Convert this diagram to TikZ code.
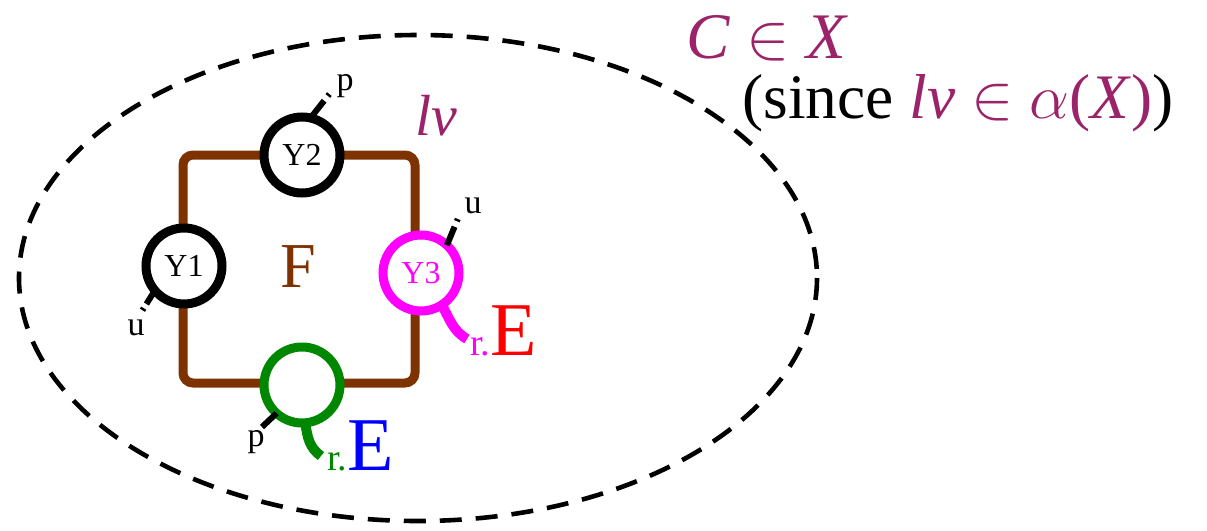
\documentclass[tikz,border=0pt]{standalone}
\usepackage{fix-cm}
\usepackage{fontspec}
\setmainfont{Liberation Serif}
\usetikzlibrary{positioning}
\definecolor{plum}{RGB}{155,35,105}
\definecolor{rust}{RGB}{125,50,0}
\definecolor{leaf}{RGB}{0,135,0}
\definecolor{fuchsia}{RGB}{255,0,255}
\definecolor{scarlet}{RGB}{255,0,0}
\definecolor{azure}{RGB}{0,0,255}

\begin{document}
\begin{tikzpicture}[
  x=0.5pt,y=-0.5pt,
  port/.style={circle,draw,line width=4.5pt,fill=white,minimum size=38pt,
    inner sep=0pt,outer sep=0pt,font=\fontsize{16}{16}\selectfont},
  stub/.style={line width=3pt},
  tail/.style={line width=5pt},
  tag/.style={anchor=base,inner sep=0pt,font=\fontsize{17}{17}\selectfont},
  bigtag/.style={anchor=base west,inner sep=0pt,font=\fontsize{19}{19}\selectfont}
]
  \useasboundingbox (0,0) rectangle (1207,531);
  % the set X
  \draw[line width=2.3pt,dash pattern=on 11pt off 7pt] (418,278) ellipse [x radius=399, y radius=243];
  % the cycle F
  \draw[rust,line width=4.5pt,rounded corners=5pt] (183,155) rectangle (415,383);
  \node[port] (y1) at (184,266) {Y1};
  \node[port] (y2) at (302,155) {Y2};
  \node[port,draw=fuchsia,text=fuchsia] (y3) at (421,273) {Y3};
  \node[port,draw=leaf] (yg) at (302,385) {};
  % stubs
  \coordinate (s1) at (142,311);
  \coordinate (s2) at (331,92);
  \coordinate (s3) at (459,216);
  \coordinate (sg) at (262,427);
  \draw[stub,dash pattern=on 8pt off 2.5pt on 1.2pt off 20pt] (y1.220) -- (s1);
  \draw[stub,dash pattern=on 11pt off 3pt on 1.2pt off 20pt] (y2.77) -- (s2);
  \draw[stub,dash pattern=on 10pt off 3pt on 1.2pt off 20pt] (y3.47) -- (s3);
  \draw[stub] (yg.228) -- (sg);
  % tails
  \coordinate (t3) at (467,339);
  \coordinate (tg) at (321,456);
  \draw[tail,fuchsia] (y3.-57) to[out=-60,in=150] (t3);
  \draw[tail,leaf] (yg.-85) to[out=-82,in=145] (tg);
  % labels
  \node[tag] (u1) at (136,335) {u};
  \node[tag] (p2) at (345,90) {p};
  \node[tag] (u3) at (473,213) {u};
  \node[tag] (pg) at (256,446) {p};
  \node[bigtag,text=fuchsia] (e3) at (470,355) {r.\textcolor{scarlet}{\fontsize{38}{38}\selectfont E}};
  \node[bigtag,text=leaf] (eg) at (327,470) {r.\textcolor{azure}{\fontsize{38}{38}\selectfont E}};
  \node[anchor=base,text=rust,font=\fontsize{32}{32}\selectfont] (f) at (298,287) {F};
  \node[anchor=base,text=plum,font=\fontsize{29}{29}\selectfont] (lv) at (436,135) {\textit{lv}};
  \node[anchor=base west,inner sep=0pt,text=plum,font=\fontsize{32.5}{33}\selectfont] (claim) at (686,58)
    {\textit{C} $\in$ \textit{X}};
  \node[anchor=base west,inner sep=0pt,font=\fontsize{31.7}{33}\selectfont] (why) at (742,118)
    {(since \textcolor{plum}{\textit{lv} $\in$ $\alpha$(\textit{X})})};
\end{tikzpicture}
\end{document}
